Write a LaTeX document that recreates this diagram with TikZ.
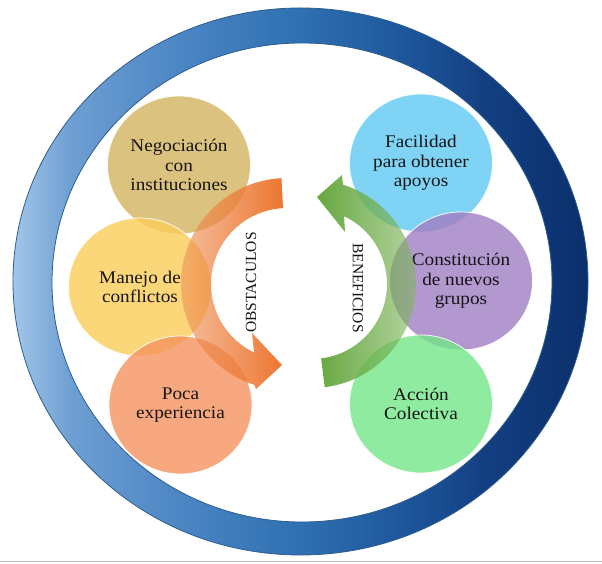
\documentclass[tikz,border=0pt]{standalone}
\usepackage{fontspec}
\setmainfont{Liberation Serif}[FakeStretch=1.08]
\newfontfamily\rotfont{Liberation Serif}
\usetikzlibrary{shapes.geometric,fadings,calc}

\definecolor{cneg}{HTML}{D3B35F}
\definecolor{cman}{HTML}{FCCD59}
\definecolor{cpoc}{HTML}{F6935F}
\definecolor{cfac}{HTML}{60C9F2}
\definecolor{ccon}{HTML}{A17DC3}
\definecolor{cacc}{HTML}{74E688}
\definecolor{txt}{HTML}{151515}
\definecolor{corange}{HTML}{EC7630}
\definecolor{cgreen}{HTML}{66A83F}
\definecolor{ringline}{HTML}{2E5E8E}

\definecolor{rca}{HTML}{A3C6E8}
\definecolor{rcb}{HTML}{6E9FD3}
\definecolor{rcc}{HTML}{4A84C3}
\definecolor{rcd}{HTML}{2E70B2}
\definecolor{rce}{HTML}{1C5398}
\definecolor{rcf}{HTML}{133F82}
\definecolor{rcg}{HTML}{0B2F6B}

\pgfdeclarehorizontalshading{ringsh}{100bp}{color(0bp)=(rca); color(25bp)=(rca); color(30bp)=(rcb); color(40bp)=(rcc); color(50bp)=(rcd); color(60bp)=(rce); color(66bp)=(rcf); color(75bp)=(rcg); color(100bp)=(rcg)}

\tikzfading[name=fadeL, left color=transparent!55, middle color=transparent!15, right color=transparent!0]
\tikzfading[name=fadeR, left color=transparent!0, middle color=transparent!15, right color=transparent!55]

\tikzset{
  bub/.style={ellipse, minimum width=143pt, minimum height=138pt, inner sep=0pt,
    fill opacity=0.8, text opacity=1, draw=white, draw opacity=0.9, line width=0.8pt,
    align=center, text=txt, font=\fontsize{17.8}{19.5}\selectfont},
  arrlabel/.style={text=txt, inner sep=0pt, font=\rotfont\fontsize{15.5}{16}\selectfont}
}

\begin{document}
\begin{tikzpicture}[x=1pt,y=1pt]
\useasboundingbox (0,0) rectangle (602,564);
\fill[white] (0,0) rectangle (602,564);

% outer ring
\shade[shading=ringsh, even odd rule]
  (300.5,282.5) ellipse [x radius=287.5, y radius=273.5]
  (302,281.5) ellipse [x radius=250, y radius=239.5];
\draw[ringline, line width=0.8pt] (300.5,282.5) ellipse [x radius=287.5, y radius=273.5];
\draw[ringline, line width=0.8pt] (302,281.5) ellipse [x radius=250, y radius=239.5];

% bottom gray line
\draw[gray!55, line width=1pt] (0,2) -- (602,2);

% circles
\node[bub, fill=cneg] (neg) at (179,399) {Negociación\\con\\instituciones};
\node[bub, fill=cman] (man) at (140,277) {Manejo de\\conflictos};
\node[bub, fill=cpoc] (poc) at (180.5,159) {Poca\\experiencia};
\node[bub, fill=cfac] (fac) at (421,401) {Facilidad\\para obtener\\apoyos};
\node[bub, fill=ccon] (con) at (461,283) {Constitución\\de nuevos\\grupos};
\node[bub, fill=cacc] (acc) at (421,160) {Acción\\Colectiva};

% orange arrow (obstaculos)
\coordinate (O) at (287,280);
\fill[white, fill opacity=0.2]
  ($(O)+(93:106)$) arc[start angle=93, end angle=252, radius=106]
  -- (256,175) -- (282,199) -- (252,231)
  -- ($(O)+(244.3:76)$) arc[start angle=244.3, end angle=93, radius=76] -- cycle;
\fill[corange, path fading=fadeL]
  ($(O)+(93:106)$) arc[start angle=93, end angle=252, radius=106]
  -- (256,175) -- (282,199) -- (252,231)
  -- ($(O)+(244.3:76)$) arc[start angle=244.3, end angle=93, radius=76] -- cycle;

% green arrow (beneficios)
\coordinate (G) at (312,280);
\fill[white, fill opacity=0.2]
  ($(G)+(-83:104)$) arc[start angle=-83, end angle=72.7, radius=104]
  -- (342,389) -- (317,367) -- (345,332)
  -- ($(G)+(64.7:75)$) arc[start angle=64.7, end angle=-83, radius=75] -- cycle;
\fill[cgreen, path fading=fadeR]
  ($(G)+(-83:104)$) arc[start angle=-83, end angle=72.7, radius=104]
  -- (342,389) -- (317,367) -- (345,332)
  -- ($(G)+(64.7:75)$) arc[start angle=64.7, end angle=-83, radius=75] -- cycle;

% arrow labels
\node[arrlabel, rotate=90] (obs) at (251,281.5) {OBSTACULOS};
\node[arrlabel, rotate=-90] (ben) at (358,276) {BENEFICIOS};
\end{tikzpicture}
\end{document}
